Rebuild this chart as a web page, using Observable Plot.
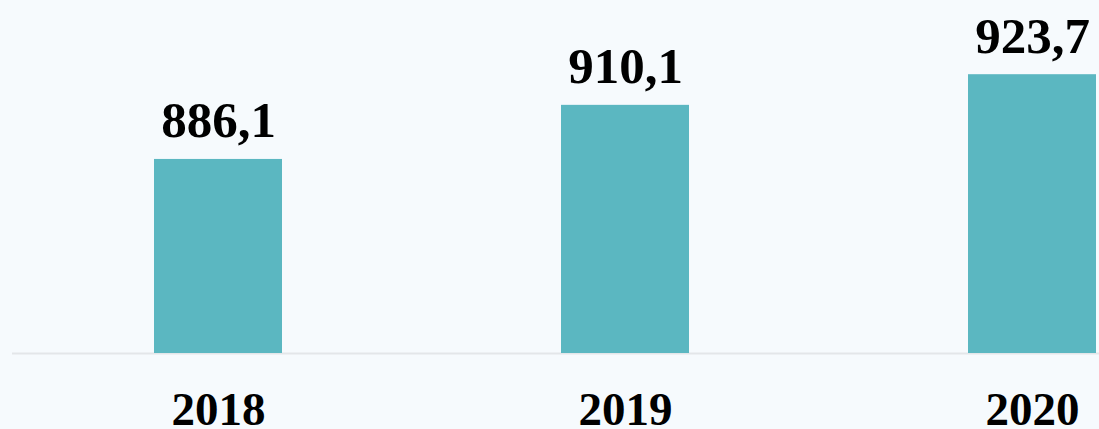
<!DOCTYPE html>
<html><head><meta charset="utf-8">
<script src="https://cdn.jsdelivr.net/npm/d3@7"></script>
<script src="https://cdn.jsdelivr.net/npm/@observablehq/plot@0.6"></script>
<style>html,body{margin:0;padding:0;background:#f6fafd;overflow:hidden;}</style>
</head><body><div id="chart"></div>
<script>
const years = ["2018", "2019", "2020"];
const values = [886.1, 910.1, 923.7];
const valueLabels = ["886,1", "910,1", "923,7"];
const data = years.map((year, i) => ({year, value: values[i], label: valueLabels[i]}));

const chart = Plot.plot({
  width: 1099, height: 429,
  marginTop: 60, marginBottom: 76, marginLeft: 153, marginRight: 2,
  style: {background: "#f6fafd", color: "#000", fontFamily: "'Liberation Serif', 'Times New Roman', serif"},
  x: {domain: years, paddingInner: 0.686, paddingOuter: 0, label: null},
  y: {domain: [800, 930], axis: null},
  marks: [
    Plot.ruleY([800], {stroke: "#e3e6e9", strokeWidth: 2, insetLeft: -141, insetRight: -2}),
    Plot.barY(data, {x: "year", y1: 800, y2: "value", fill: "#5bb7c1"}),
    Plot.text(data, {x: "year", y: "value", text: "label", dy: -22, lineAnchor: "bottom", fontSize: 51, fontWeight: "bold", fill: "#000"}),
    Plot.axisX({tickSize: 0, tickPadding: 38, fontSize: 47, fontWeight: "bold", label: null})
  ]
});
document.getElementById("chart").appendChild(chart);
</script>
</body></html>
